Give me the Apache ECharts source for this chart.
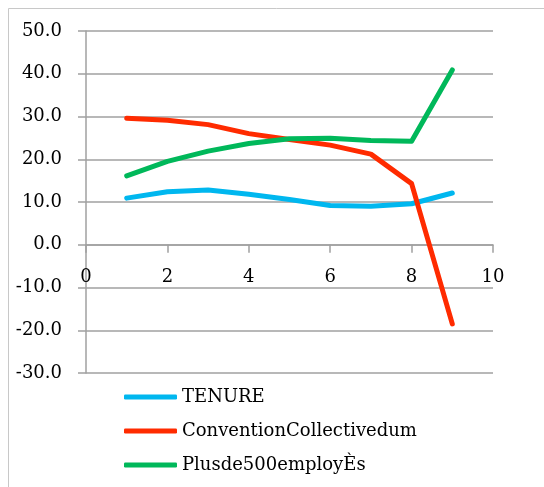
<!DOCTYPE html>
<html>
<head>
<meta charset="utf-8">
<script src="https://cdn.jsdelivr.net/npm/echarts@6/dist/echarts.min.js"></script>
<style>
  html, body { margin: 0; padding: 0; background: #fff; }
  #chart { width: 544px; height: 487px; }
</style>
</head>
<body>
<div id="chart"></div>
<script>
// Positions 1..9 on the horizontal value axis
const positions = [1, 2, 3, 4, 5, 6, 7, 8, 9];

const seriesNames = ['TENURE', 'ConventionCollectivedum', 'Plusde500employÈs'];

const tenure = [10.9, 12.4, 12.8, 11.8, 10.6, 9.2, 9.0, 9.6, 12.1];
const convention = [29.6, 29.1, 28.1, 26.0, 24.6, 23.3, 21.2, 14.3, -18.5];
const plus500 = [16.1, 19.5, 21.9, 23.7, 24.8, 24.9, 24.4, 24.2, 40.9];

const yTicks = { min: -30, max: 50, step: 10 };
const xTicks = { min: 0, max: 10, step: 2 };

const colors = ['#00B7EF', '#FF2B00', '#00B85A'];
const font = 'DejaVu Serif';

const pairs = (vals) => positions.map((x, i) => [x, vals[i]]);

// Plot area
const W = 544, H = 487;
const gridBox = { left: 86, right: 51, top: 31, bottom: 114 };
const plotH = H - gridBox.top - gridBox.bottom;
// Lift the horizontal axis from the bottom edge up to the y = 0 line
const xAxisOffset = -plotH * (0 - yTicks.min) / (yTicks.max - yTicks.min);

const chart = echarts.init(document.getElementById('chart'), null, { renderer: 'canvas' });

chart.setOption({
  animation: false,
  backgroundColor: '#ffffff',
  graphic: [{
    type: 'rect',
    shape: { x: 8.5, y: 8.5, width: 700, height: 700 },
    style: { fill: 'none', stroke: '#c8c8c8', lineWidth: 1 },
    silent: true,
    z: -10
  }],
  grid: Object.assign({ containLabel: false }, gridBox),
  legend: {
    orient: 'vertical',
    left: 119,
    top: 382,
    itemWidth: 53,
    itemHeight: 5,
    itemGap: 14,
    icon: 'roundRect',
    data: seriesNames,
    textStyle: { fontFamily: font, fontSize: 18, color: '#000', lineHeight: 20 }
  },
  xAxis: {
    type: 'value',
    position: 'bottom',
    offset: xAxisOffset,
    min: xTicks.min,
    max: xTicks.max,
    interval: xTicks.step,
    axisLine: { onZero: false, lineStyle: { color: '#a0a0a0', width: 1.5 } },
    axisTick: { show: true, length: 8, lineStyle: { color: '#a0a0a0', width: 1.5 } },
    axisLabel: { fontFamily: font, fontSize: 18, color: '#000', margin: 24 },
    splitLine: { show: false }
  },
  yAxis: {
    type: 'value',
    min: yTicks.min,
    max: yTicks.max,
    interval: yTicks.step,
    axisLine: { show: true, onZero: false, lineStyle: { color: '#a0a0a0', width: 1.5 } },
    axisTick: { show: true, length: 8, lineStyle: { color: '#a0a0a0', width: 1.5 } },
    axisLabel: {
      fontFamily: font, fontSize: 18, color: '#000', margin: 24,
      formatter: (v) => v.toFixed(1)
    },
    splitLine: { show: true, lineStyle: { color: '#a0a0a0', width: 1.5 } }
  },
  series: [
    { name: seriesNames[0], data: pairs(tenure), color: colors[0] },
    { name: seriesNames[1], data: pairs(convention), color: colors[1] },
    { name: seriesNames[2], data: pairs(plus500), color: colors[2] }
  ].map((s) => Object.assign({
    type: 'line',
    showSymbol: false,
    symbol: 'none',
    lineStyle: { width: 5, cap: 'round', join: 'round' }
  }, s))
});
</script>
</body>
</html>
